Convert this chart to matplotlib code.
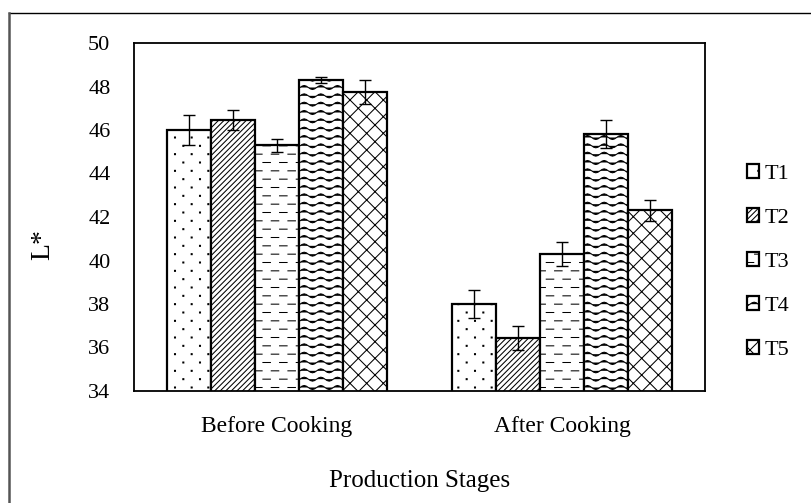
import warnings
import numpy as np
import matplotlib
matplotlib.use("Agg")
import matplotlib.pyplot as plt
import matplotlib.hatch as mhatch
from matplotlib.path import Path
from matplotlib.lines import Line2D

warnings.filterwarnings("ignore")

# ---------------- data ----------------
categories = ["Before Cooking", "After Cooking"]
series_names = ["T1", "T2", "T3", "T4", "T5"]
T1 = [46.0, 38.0]
T2 = [46.45, 36.45]
T3 = [45.3, 40.3]
T4 = [48.3, 45.8]
T5 = [47.75, 42.3]
T1_err = [0.7, 0.65]
T2_err = [0.45, 0.55]
T3_err = [0.3, 0.55]
T4_err = [0.12, 0.65]
T5_err = [0.55, 0.5]
y_ticks = [34, 36, 38, 40, 42, 44, 46, 48, 50]


# ---------------- custom hatch textures ----------------
class DotHatch(mhatch.HatchPatternBase):
    def __init__(self, hatch, density):
        n = hatch.count(':')
        self.rows = 12 if n else 0
        self.cols = 6
        self.num_vertices = self.rows * (self.cols + 1) * 5

    def set_vertices_and_codes(self, vertices, codes):
        s = 0.005
        k = 0
        for r in range(self.rows):
            y = (r + 0.5) / self.rows
            off = 0.0 if r % 2 == 0 else 0.5
            for c in range(self.cols + 1):
                x = (c + off) / self.cols
                vertices[k:k + 5] = [(x - s, y - s), (x + s, y - s),
                                     (x + s, y + s), (x - s, y + s),
                                     (x - s, y - s)]
                codes[k] = Path.MOVETO
                codes[k + 1:k + 4] = Path.LINETO
                codes[k + 4] = Path.CLOSEPOLY
                k += 5


class DashHatch(mhatch.HatchPatternBase):
    def __init__(self, hatch, density):
        n = hatch.count('_')
        self.rows = 12 if n else 0
        self.cols = 6
        self.num_vertices = self.rows * (self.cols + 1) * 2

    def set_vertices_and_codes(self, vertices, codes):
        L = 0.075
        k = 0
        for r in range(self.rows):
            y = (r + 0.5) / self.rows
            off = 0.0 if r % 2 == 0 else 0.5
            for c in range(self.cols + 1):
                x = (c + off) / self.cols
                vertices[k] = (x - L / 2, y)
                vertices[k + 1] = (x + L / 2, y)
                codes[k] = Path.MOVETO
                codes[k + 1] = Path.LINETO
                k += 2


class WaveHatch(mhatch.HatchPatternBase):
    def __init__(self, hatch, density):
        n = hatch.count('~')
        self.rows = 12 if n else 0
        self.periods = 6
        self.npts = self.periods * 8 + 1
        self.num_vertices = self.rows * self.npts

    def set_vertices_and_codes(self, vertices, codes):
        A = 0.02
        xs = np.linspace(0, 1, self.npts)
        k = 0
        for r in range(self.rows):
            y = (r + 0.5) / self.rows
            ys = y + A * np.sin(2 * np.pi * self.periods * xs)
            vertices[k:k + self.npts, 0] = xs
            vertices[k:k + self.npts, 1] = ys
            codes[k] = Path.MOVETO
            codes[k + 1:k + self.npts] = Path.LINETO
            k += self.npts


mhatch._hatch_types.extend([DotHatch, DashHatch, WaveHatch])
mhatch._validate_hatch_pattern = lambda h: None

# ---------------- figure ----------------
plt.rcParams['font.family'] = ['Liberation Serif', 'DejaVu Serif']
plt.rcParams['hatch.linewidth'] = 0.75
plt.rcParams['hatch.color'] = 'black'

fig = plt.figure(figsize=(8.11, 5.03), dpi=100)
ax = fig.add_axes([134 / 811, 1 - 391 / 503, (705 - 134) / 811, (391 - 43) / 503])

values = [T1, T2, T3, T4, T5]
errors = [T1_err, T2_err, T3_err, T4_err, T5_err]
hatches = [':', '//////', '_', '~', 'xx']

x = np.arange(len(categories))
group = 0.77
w = group / len(series_names)
for i, (name, vals, errs, h) in enumerate(zip(series_names, values, errors, hatches)):
    pos = x - group / 2 + w * (i + 0.5)
    ax.bar(pos, vals, width=w, bottom=0, color='white', edgecolor='black',
           linewidth=1.6, hatch=h, label=name, zorder=2)
    ax.errorbar(pos, vals, yerr=errs, fmt='none', ecolor='black',
                elinewidth=1.0, capsize=4.5, capthick=1.0, zorder=3)

ax.set_xlim(-0.5, 1.5)
ax.set_ylim(34, 50)
ax.set_yticks(y_ticks)
ax.set_yticklabels([str(t) for t in y_ticks])
ax.set_xticks(x)
ax.set_xticklabels(categories)
ax.tick_params(axis='both', length=0, labelsize=16)
ax.tick_params(axis='y', pad=17)
ax.tick_params(axis='x', labelsize=17, pad=18)
for s in ax.spines.values():
    s.set_linewidth(1.3)
    s.set_color('black')

ax.set_ylabel('L*', fontsize=20)
ax.yaxis.set_label_coords(-0.138, 0.42)
ax.set_xlabel('Production Stages', fontsize=18)
ax.xaxis.set_label_coords(0.5, -0.259)
ax.xaxis.label.set_va('center')

leg = fig.legend(loc='center left', bbox_to_anchor=(747 / 811, 1 - 262 / 503),
                 frameon=False, fontsize=16, handlelength=0.55, handleheight=0.55,
                 handletextpad=0.25, labelspacing=1.1, borderpad=0,
                 borderaxespad=0)

# outer frame of the original figure
fig.add_artist(Line2D([9 / 811, 1.0], [1 - 13 / 503, 1 - 13 / 503],
                      transform=fig.transFigure, color='black', linewidth=1.0))
fig.add_artist(Line2D([9 / 811, 9 / 811], [1 - 13 / 503, 0.0],
                      transform=fig.transFigure, color='#555555', linewidth=1.8))

fig.savefig('out.png', dpi=100, facecolor='white')
